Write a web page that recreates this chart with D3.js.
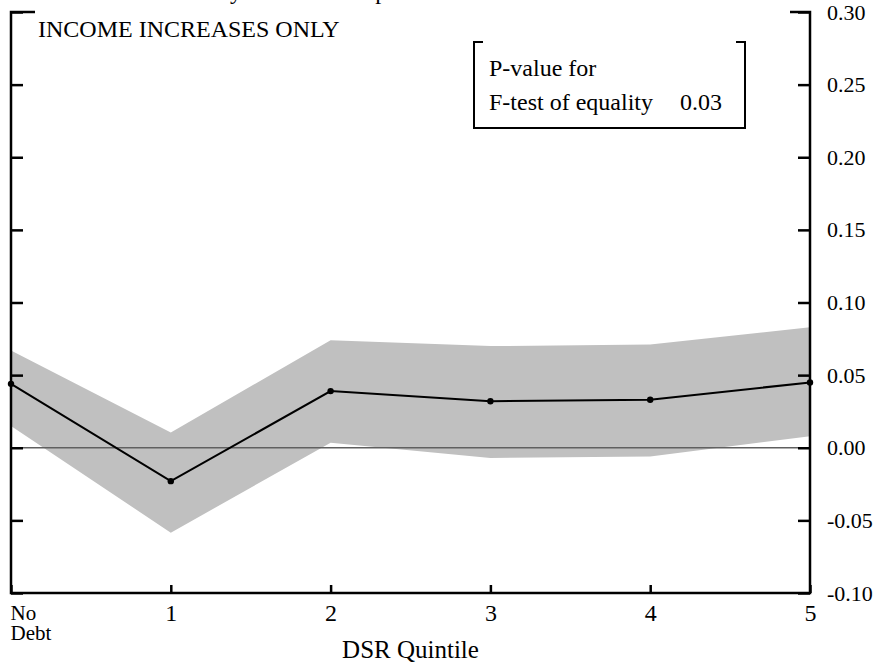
<!DOCTYPE html>
<html>
<head>
<meta charset="utf-8">
<script src="https://cdn.jsdelivr.net/npm/d3@7"></script>
<style>
  body { margin: 0; background: #fff; }
  svg text { font-family: "Liberation Serif", "Times New Roman", Times, serif; fill: #000; }
</style>
</head>
<body>
<svg id="chart" width="877" height="671"></svg>
<script>
// chart values
var categories = ["No Debt", "1", "2", "3", "4", "5"];
var estimate   = [0.044, -0.023, 0.039, 0.032, 0.033, 0.045];
var upperBand  = [0.067, 0.0105, 0.074, 0.070, 0.071, 0.083];
var lowerBand  = [0.015, -0.0585, 0.0035, -0.007, -0.006, 0.008];
var yTicks     = [-0.10, -0.05, 0.00, 0.05, 0.10, 0.15, 0.20, 0.25, 0.30];

var svg = d3.select('#chart');

// plot edges (trial and error against the reference)
var plotL = 11, plotR = 810, plotT = 12, plotB = 593;
var fs = 24;

var x = d3.scalePoint()
    .domain(categories)
    .range([plotL, plotR]);

var y = d3.scaleLinear()
    .domain([-0.10, 0.30])
    .range([plotB, plotT]);

// clipped title at the very top, only descenders show
var title = svg.append("text")
    .attr("font-size", fs)
    .attr("y", -1)
    .text("Total Effect by Income Group");
// line the "y" of "by" up with the fragment in the picture
var pre = title.node().getSubStringLength(0, 14);
title.attr("x", 230 - pre);

// confidence band
var area = d3.area()
    .x(function(d, i) { return x(categories[i]); })
    .y0(function(d, i) { return y(lowerBand[i]); })
    .y1(function(d) { return y(d); });

svg.append("path")
    .datum(upperBand)
    .attr("fill", "#c0c0c0")
    .attr("d", area);

// zero line
svg.append("line")
    .attr("x1", plotL).attr("x2", plotR)
    .attr("y1", y(0)).attr("y2", y(0))
    .attr("stroke", "#606060")
    .attr("stroke-width", 1.5);

// point estimates
var line = d3.line()
    .x(function(d, i) { return x(categories[i]); })
    .y(function(d) { return y(d); });

svg.append("path")
    .datum(estimate)
    .attr("fill", "none")
    .attr("stroke", "#000")
    .attr("stroke-width", 2)
    .attr("d", line);

svg.append("g")
  .selectAll("circle")
    .data(estimate)
    .enter().append("circle")
    .attr("cx", function(d, i) { return x(categories[i]); })
    .attr("cy", function(d) { return y(d); })
    .attr("r", 3.2)
    .attr("fill", "#000");

// right axis with labels (plain hyphen for negatives)
var fmt = d3.format(".2f");
var rightAxis = svg.append("g")
    .attr("transform", "translate(" + plotR + ",0)")
    .call(d3.axisRight(y)
      .tickValues(yTicks)
      .tickSizeInner(-12)
      .tickSizeOuter(0)
      .tickPadding(17)
      .tickFormat(function(d) { return fmt(d).replace("\u2212", "-"); }));
rightAxis.attr("font-family", null).attr("font-size", null);
rightAxis.select(".domain").remove();
rightAxis.selectAll("line").attr("stroke", "#000").attr("stroke-width", 2.5);
rightAxis.selectAll("text").attr("font-size", 22);

// left axis, ticks only
var leftAxis = svg.append("g")
    .attr("transform", "translate(" + plotL + ",0)")
    .call(d3.axisLeft(y)
      .tickValues(yTicks)
      .tickSizeInner(-12)
      .tickSizeOuter(0)
      .tickFormat(""));
leftAxis.select(".domain").remove();
leftAxis.selectAll("line").attr("stroke", "#000").attr("stroke-width", 2.5);

// bottom axis
var bottomAxis = svg.append("g")
    .attr("transform", "translate(0," + plotB + ")")
    .call(d3.axisBottom(x)
      .tickSizeInner(-8)
      .tickSizeOuter(0));
bottomAxis.attr("font-family", null).attr("font-size", null);
bottomAxis.select(".domain").remove();
bottomAxis.selectAll("line").attr("stroke", "#000").attr("stroke-width", 2.5);
bottomAxis.selectAll("text")
    .attr("font-size", fs)
    .attr("y", 28)
    .attr("dy", null);

// "No Debt" goes on two lines, left-aligned
bottomAxis.selectAll(".tick text")
  .filter(function(d) { return d === "No Debt"; })
    .text(null)
    .attr("text-anchor", "start")
    .attr("font-size", 21)
    .each(function() {
      var t = d3.select(this);
      t.append("tspan").attr("x", -1).attr("y", 27).text("No");
      t.append("tspan").attr("x", -1).attr("y", 47).text("Debt");
    });

// frame lines
svg.append("path")
    .attr("d", "M" + (plotL + 24) + "," + plotT + "H" + plotL + "V" + plotB +
               "H" + plotR + "V" + plotT + "H" + (plotR - 20))
    .attr("stroke", "#000")
    .attr("stroke-width", 2.5)
    .attr("fill", "none");

svg.append("text")
    .attr("x", (plotL + plotR) / 2)
    .attr("y", 658)
    .attr("text-anchor", "middle")
    .attr("font-size", 25)
    .text("DSR Quintile");

svg.append("text")
    .attr("x", 38)
    .attr("y", 37)
    .attr("font-size", fs)
    .text("INCOME INCREASES ONLY");

// p-value box
var box = svg.append("g");
box.append("path")
    .attr("d", "M483,42H474V128H745V42H736")
    .attr("fill", "none")
    .attr("stroke", "#000")
    .attr("stroke-width", 2);
box.append("text").attr("x", 489).attr("y", 76).attr("font-size", fs).text("P-value for");
box.append("text").attr("x", 489).attr("y", 110).attr("font-size", fs).text("F-test of equality");
box.append("text").attr("x", 680).attr("y", 110).attr("font-size", fs).text("0.03");
</script>
</body>
</html>
